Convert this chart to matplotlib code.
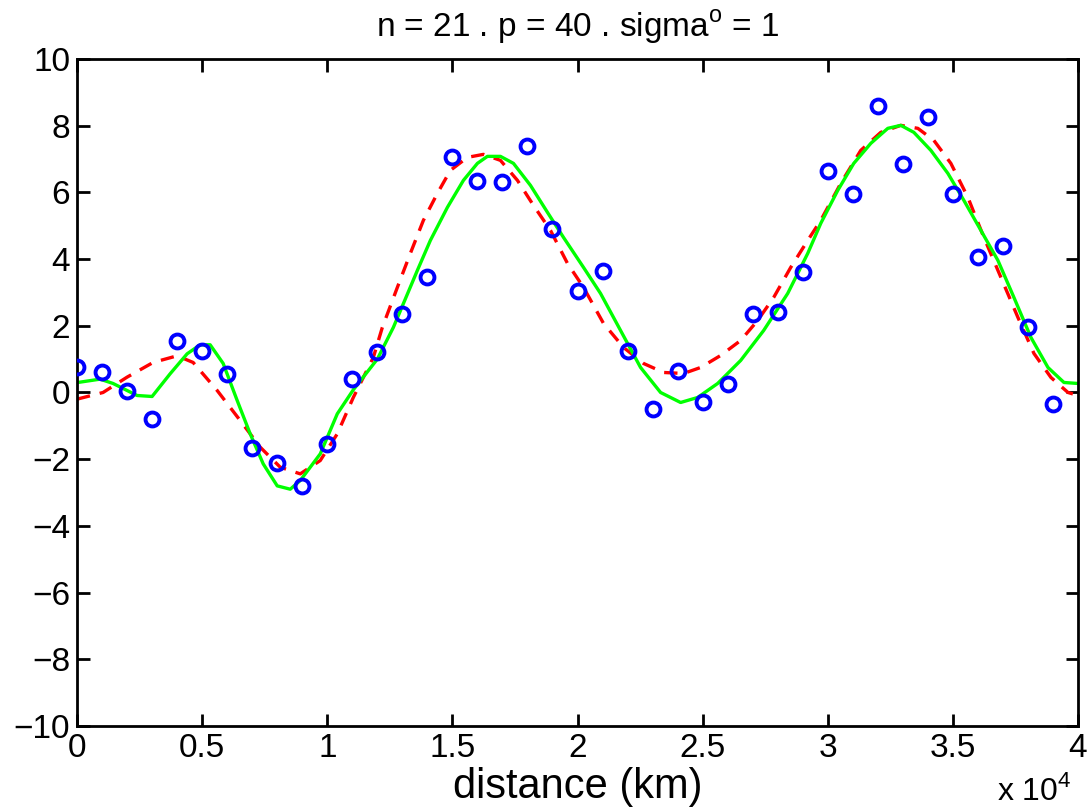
import numpy as np
import matplotlib
matplotlib.use("Agg")
import matplotlib.pyplot as plt

plt.rcParams['font.family'] = ['Liberation Sans', 'DejaVu Sans']

# observed points (blue circles)
obs_x = np.arange(0, 40000, 1000)
obs_y = [0.75, 0.6, 0.05, -0.8, 1.55, 1.25, 0.55, -1.65, -2.1, -2.8,
         -1.55, 0.4, 1.2, 2.35, 3.45, 7.05, 6.35, 6.3, 7.4, 4.9,
         3.05, 3.65, 1.25, -0.5, 0.65, -0.3, 0.25, 2.35, 2.4, 3.6,
         6.65, 5.95, 8.6, 6.85, 8.25, 5.95, 4.05, 4.4, 1.95, -0.35]

# green solid curve
green_x = [0, 120, 920, 1440, 2400, 3000, 3720, 4400, 4920, 5320, 5840,
           6400, 6920, 7440, 8000, 8520, 8920, 9720, 10400, 11040, 12000,
           12640, 13600, 14120, 14800, 15440, 16000, 16400, 16920, 17440,
           18120, 18800, 19440, 20240, 20920, 21720, 22520, 23320, 24120,
           24800, 25600, 26520, 27440, 28400, 29200, 29720, 30400, 31040,
           31720, 32400, 32920, 33440, 34120, 34800, 35440, 36120, 36800,
           37440, 38120, 38800, 39440, 40000]
green_y = [0.3, 0.31, 0.4, 0.27, -0.09, -0.12, 0.56, 1.16, 1.43, 1.43, 0.87,
           -0.24, -1.24, -2.14, -2.8, -2.9, -2.64, -1.84, -0.64, 0.08, 1.0,
           1.95, 3.66, 4.56, 5.55, 6.36, 6.87, 7.08, 7.08, 6.87,
           6.21, 5.4, 4.65, 3.75, 2.97, 1.86, 0.75, 0.0, -0.3,
           -0.15, 0.27, 0.96, 1.86, 2.97, 4.17, 5.07, 6.06, 6.87,
           7.47, 7.92, 8.01, 7.8, 7.26, 6.57, 5.76, 4.86, 3.96,
           2.85, 1.65, 0.75, 0.3, 0.27]

# red dashed curve
red_x = [0, 1040, 2000, 3040, 4000, 4640, 5600, 6520, 7320, 8120, 8920,
         9720, 10400, 11040, 11840, 12200, 12800, 13320, 13840, 14400,
         14920, 15600, 16240, 16920, 17600, 18240, 18920, 19600, 20240,
         21040, 21840, 22640, 23440, 24240, 24920, 25720, 26520, 27200,
         27840, 28520, 29200, 29720, 30520, 31320, 32120, 32920, 33600,
         34240, 34920, 35600, 36240, 36920, 37600, 38240, 38920, 39600, 40000]
red_y = [-0.2, 0.0, 0.46, 0.9, 1.1, 0.9, 0.06, -0.84, -1.64, -2.24, -2.44,
         -2.04, -1.24, -0.15, 1.05, 1.95, 3.15, 4.17, 5.16, 5.97,
         6.66, 7.05, 7.14, 6.96, 6.36, 5.61, 4.86, 3.87, 3.15,
         2.07, 1.35, 0.87, 0.6, 0.57, 0.75, 1.11, 1.56, 2.16,
         2.85, 3.75, 4.56, 5.16, 6.27, 7.26, 7.8, 8.01, 7.92,
         7.56, 6.87, 5.85, 4.65, 3.45, 2.25, 1.17, 0.45, 0.0, -0.09]

fig = plt.figure(figsize=(10.88, 8.09), dpi=100)
ax = fig.add_axes([0.0708, 0.1026, 0.92, 0.8245])

ax.plot(obs_x, obs_y, 'o', mfc='none', mec='#0000ff', ms=10, mew=2.8, zorder=3)
ax.plot(red_x, red_y, '--', color='#ff0000', lw=2.4, dashes=(4, 3), zorder=2)
ax.plot(green_x, green_y, '-', color='#00ff00', lw=2.4, zorder=2)

ax.set_xlim(0, 40000)
ax.set_ylim(-10, 10)
ax.set_xticks(np.arange(0, 40001, 5000))
ax.set_xticklabels(['0', '0.5', '1', '1.5', '2', '2.5', '3', '3.5', '4'])
ax.set_yticks(np.arange(-10, 11, 2))
ax.tick_params(direction='in', length=9, width=2, labelsize=24,
               top=True, right=True, pad=5)
ax.tick_params(axis='x', pad=5)
for s in ax.spines.values():
    s.set_linewidth(2)

ax.set_title('n = 21 . p = 40 . sigma$^\\mathregular{o}$ = 1', fontsize=24, pad=16)
ax.set_xlabel('distance (km)', fontsize=30, labelpad=2)
fig.text(0.916, 0.002, 'x 10$^\\mathregular{4}$', ha='left', va='bottom', fontsize=23)

fig.savefig('out.png', dpi=100)
